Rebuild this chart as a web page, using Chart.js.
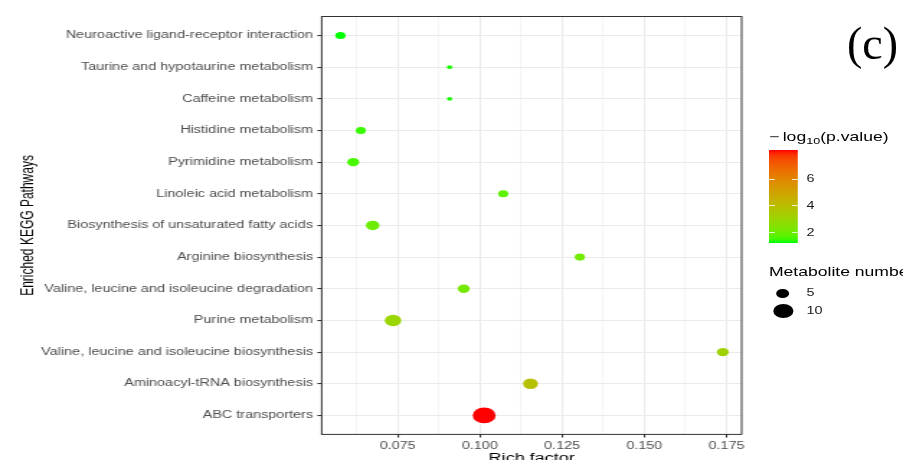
<!DOCTYPE html>
<html>
<head>
<meta charset="utf-8">
<script src="https://cdn.jsdelivr.net/npm/chart.js@4.4.1/dist/chart.umd.min.js"></script>
<style>
  html, body { margin: 0; padding: 0; background: #fff; }
  body { width: 903px; height: 460px; overflow: hidden; position: relative; font-family: 'Liberation Sans', Arial, sans-serif; }
  /* the reference is stretched sideways, so the whole figure is drawn narrow and scaled */
  #stage { position: absolute; left: 0; top: 0; width: 627px; height: 480px; transform: scaleX(1.44); transform-origin: 0 0; }
  #chartBox { position: absolute; left: 0; top: 0; width: 627px; height: 480px; }
  .lg { position: absolute; color: #000; white-space: nowrap; }
  .lgTitle { font-size: 12.2px; line-height: 14px; }
  .lgText { font-size: 10px; line-height: 12px; color: #1a1a1a; }
  #colorbar { position: absolute; left: 534.2px; top: 150px; width: 19.4px; height: 93.3px; }
  .cbTick { position: absolute; height: 1px; width: 4px; background: rgba(255,255,255,0.8); }
  .dot { position: absolute; background: #000; border-radius: 50%; }
  #panelLabel { position: absolute; left: 847px; top: 21px; font-family: 'Liberation Serif', 'Times New Roman', serif; font-size: 46px; line-height: 46px; color: #000; }
</style>
</head>
<body>
<div id="stage">
  <div id="chartBox"><canvas id="dotChart"></canvas></div>
  <div class="lg lgTitle" style="left:534px; top:130px;">&minus;&thinsp;log<span style="font-size:0.72em; vertical-align:-0.3em;">10</span>(p.value)</div>
  <div id="colorbar"></div>
  <div class="lg lgTitle" style="left:534px; top:265px;">Metabolite number</div>
</div>
<div id="panelLabel">(c)</div>

<script>
// Datos
const pathways = [
    'Neuroactive ligand-receptor interaction',
    'Taurine and hypotaurine metabolism',
    'Caffeine metabolism',
    'Histidine metabolism',
    'Pyrimidine metabolism',
    'Linoleic acid metabolism',
    'Biosynthesis of unsaturated fatty acids',
    'Arginine biosynthesis',
    'Valine, leucine and isoleucine degradation',
    'Purine metabolism',
    'Valine, leucine and isoleucine biosynthesis',
    'Aminoacyl-tRNA biosynthesis',
    'ABC transporters'
];
const richFactor = [0.0576, 0.0908, 0.0908, 0.0638, 0.0615, 0.1071, 0.0674, 0.1304, 0.0951, 0.0736, 0.1739, 0.1154, 0.1013];
const metaboliteCount = [3, 1, 1, 3, 4, 3, 5, 3, 4, 7, 4, 6, 12];
const negLogP = [1.2, 1.25, 1.25, 1.4, 1.55, 1.8, 2.0, 2.1, 2.15, 3.0, 3.2, 3.9, 8.2];

const xMajorTicks = [0.075, 0.100, 0.125, 0.150, 0.175];
const xMinorTicks = [0.0625, 0.0875, 0.1125, 0.1375, 0.1625];
const colorbarTicks = [2, 4, 6];
const sizeBreaks = [5, 10];

// green -> red in Lab space, like ggplot's scale_colour_gradient
function toLinear(c) { c /= 255; return c <= 0.04045 ? c / 12.92 : Math.pow((c + 0.055) / 1.055, 2.4); }
function fromLinear(c) { c = c <= 0.0031308 ? 12.92 * c : 1.055 * Math.pow(c, 1 / 2.4) - 0.055; return Math.max(0, Math.min(255, Math.round(c * 255))); }
function rgbToLab(rgb) {
    const r = toLinear(rgb[0]), g = toLinear(rgb[1]), b = toLinear(rgb[2]);
    const X = (0.4124 * r + 0.3576 * g + 0.1805 * b) / 0.95047;
    const Y = 0.2126 * r + 0.7152 * g + 0.0722 * b;
    const Z = (0.0193 * r + 0.1192 * g + 0.9505 * b) / 1.08883;
    const f = t => t > 0.008856 ? Math.cbrt(t) : 7.787 * t + 16 / 116;
    const fx = f(X), fy = f(Y), fz = f(Z);
    return [116 * fy - 16, 500 * (fx - fy), 200 * (fy - fz)];
}
function labToRgb(lab) {
    const fy = (lab[0] + 16) / 116, fx = fy + lab[1] / 500, fz = fy - lab[2] / 200;
    const inv = t => t > 0.206893 ? t * t * t : (t - 16 / 116) / 7.787;
    const X = inv(fx) * 0.95047, Y = inv(fy), Z = inv(fz) * 1.08883;
    const r = 3.2406 * X - 1.5372 * Y - 0.4986 * Z;
    const g = -0.9689 * X + 1.8758 * Y + 0.0415 * Z;
    const b = 0.0557 * X - 0.2040 * Y + 1.0570 * Z;
    return [fromLinear(r), fromLinear(g), fromLinear(b)];
}
const labLow = rgbToLab([0, 255, 0]);
const labHigh = rgbToLab([255, 0, 0]);
const pMin = Math.min(...negLogP);
const pMax = Math.max(...negLogP);
function colorFor(v) {
    const t = Math.max(0, Math.min(1, (v - pMin) / (pMax - pMin)));
    const lab = labLow.map((c, i) => c + (labHigh[i] - c) * t);
    const rgb = labToRgb(lab);
    return 'rgb(' + rgb.join(',') + ')';
}
function diameterFor(n) {
    return 3.7 + 2.02 * Math.pow(n - 1, 0.75);
}
function isMajor(v) {
    return xMajorTicks.some(m => Math.abs(m - v) < 1e-9);
}

// leyenda de color
const bar = document.getElementById('colorbar');
const stops = [];
for (let i = 0; i <= 20; i++) {
    const v = pMax - (pMax - pMin) * i / 20;
    stops.push(colorFor(v) + ' ' + (i * 5) + '%');
}
bar.style.background = 'linear-gradient(to bottom, ' + stops.join(', ') + ')';
const stage = document.getElementById('stage');
colorbarTicks.forEach(v => {
    const y = 150 + (pMax - v) / (pMax - pMin) * 93.3;
    ['0px', '15.4px'].forEach(l => {
        const t = document.createElement('div');
        t.className = 'cbTick';
        t.style.left = l;
        t.style.top = (y - 150 - 0.5) + 'px';
        bar.appendChild(t);
    });
    const lab = document.createElement('div');
    lab.className = 'lg lgText';
    lab.style.left = '560px';
    lab.style.top = (y - 6) + 'px';
    lab.textContent = v;
    stage.appendChild(lab);
});

// leyenda de tamaño
sizeBreaks.forEach((n, i) => {
    const cy = [293.3, 311][i];
    const d = diameterFor(n);
    const dot = document.createElement('div');
    dot.className = 'dot';
    dot.style.width = d + 'px';
    dot.style.height = d + 'px';
    dot.style.left = (543.6 - d / 2) + 'px';
    dot.style.top = (cy - d / 2) + 'px';
    stage.appendChild(dot);
    const lab = document.createElement('div');
    lab.className = 'lg lgText';
    lab.style.left = '560px';
    lab.style.top = (cy - 6) + 'px';
    lab.textContent = n;
    stage.appendChild(lab);
});

Chart.defaults.font.family = "'Liberation Sans', Arial, sans-serif";

const panelBorder = {
    id: 'panelBorder',
    afterDraw(chart) {
        const { ctx, chartArea: a } = chart;
        ctx.save();
        ctx.strokeStyle = '#333333';
        ctx.lineWidth = 1;
        ctx.strokeRect(a.left, a.top, a.right - a.left, a.bottom - a.top);
        ctx.restore();
    }
};

const ctx = document.getElementById('dotChart').getContext('2d');
new Chart(ctx, {
    type: 'scatter',
    data: {
        datasets: [{
            data: pathways.map((p, i) => ({ x: richFactor[i], y: i })),
            pointRadius: c => diameterFor(metaboliteCount[c.dataIndex]) / 2,
            pointHoverRadius: c => diameterFor(metaboliteCount[c.dataIndex]) / 2,
            backgroundColor: c => colorFor(negLogP[c.dataIndex]),
            borderWidth: 0
        }]
    },
    options: {
        responsive: true,
        maintainAspectRatio: false,
        animation: false,
        layout: { padding: { left: 0, right: 112, top: 16.5, bottom: 0 } },
        plugins: {
            legend: { display: false },
            tooltip: { enabled: false }
        },
        scales: {
            x: {
                type: 'linear',
                min: 0.0519,
                max: 0.1796,
                afterBuildTicks: s => { s.ticks = [...xMinorTicks, ...xMajorTicks].sort((a, b) => a - b).map(v => ({ value: v })); },
                afterFit: s => { s.height = 45.6; },
                ticks: {
                    autoSkip: false,
                    maxRotation: 0,
                    padding: 2.5,
                    color: '#4d4d4d',
                    font: { size: 10 },
                    callback: v => isMajor(v) ? v.toFixed(3) : ''
                },
                grid: {
                    color: '#ebebeb',
                    lineWidth: c => isMajor(c.tick.value) ? 1.1 : 0.55,
                    tickLength: 3,
                    tickColor: c => isMajor(c.tick.value) ? '#333333' : 'rgba(0,0,0,0)'
                },
                border: { display: false },
                title: {
                    display: true,
                    text: 'Rich factor',
                    color: '#000',
                    font: { size: 12.5 },
                    padding: { top: 0, bottom: 14.2 }
                }
            },
            y: {
                type: 'linear',
                reverse: true,
                min: -0.6,
                max: 12.6,
                afterBuildTicks: s => { s.ticks = pathways.map((p, i) => ({ value: i })); },
                afterFit: s => { s.width = 223.4; },
                ticks: {
                    autoSkip: false,
                    padding: 3,
                    color: '#4d4d4d',
                    font: { size: 10 },
                    callback: v => pathways[v]
                },
                grid: {
                    color: '#ebebeb',
                    lineWidth: 1.1,
                    tickLength: 3,
                    tickColor: '#333333'
                },
                border: { display: false },
                title: {
                    display: true,
                    text: 'Enriched KEGG Pathways',
                    color: '#000',
                    font: { size: 12 },
                    padding: { top: 12.5, bottom: 0 }
                }
            }
        }
    },
    plugins: [panelBorder]
});
</script>
</body>
</html>
